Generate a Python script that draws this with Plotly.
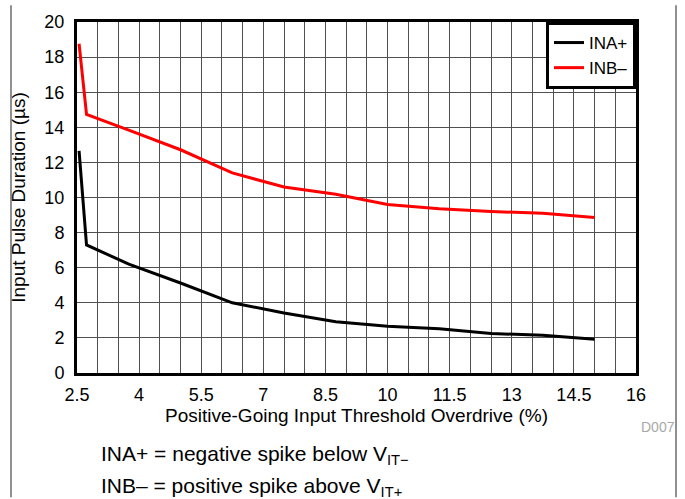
import plotly.graph_objects as go

# Threshold overdrive (%) at which each pulse duration was measured
overdrive = [2.55, 2.73, 3.75, 5.0, 6.25, 7.5, 8.75, 10.0, 11.25, 12.5, 13.75, 15.0]

# Minimum input pulse duration (µs)
ina_plus = [12.65, 7.3, 6.2, 5.13, 4.0, 3.42, 2.92, 2.66, 2.52, 2.25, 2.15, 1.92]
inb_minus = [18.76, 14.73, 13.84, 12.72, 11.4, 10.6, 10.19, 9.6, 9.36, 9.2, 9.1, 8.86]

x_ticks = [2.5, 4, 5.5, 7, 8.5, 10, 11.5, 13, 14.5, 16]
x_tick_text = ["2.5", "4", "5.5", "7", "8.5", "10", "11.5", "13", "14.5", "16"]

FONT = "Liberation Sans, Arial, sans-serif"

fig = go.Figure()
fig.add_trace(go.Scatter(x=overdrive, y=ina_plus, mode="lines", name="INA+",
                         line=dict(color="black", width=3)))
fig.add_trace(go.Scatter(x=overdrive, y=inb_minus, mode="lines", name="INB–",
                         line=dict(color="#ff0000", width=3)))

grid = "#505050"
fig.update_xaxes(
    range=[2.5, 16], tickvals=x_ticks, ticktext=x_tick_text,
    showgrid=True, gridcolor=grid, gridwidth=1,
    minor=dict(dtick=0.5, tick0=2.5, showgrid=True, gridcolor=grid, gridwidth=1),
    showline=True, mirror=True, linecolor="black", linewidth=3,
    ticks="outside", ticklen=3, tickcolor="rgba(0,0,0,0)",
    tickfont=dict(family=FONT, size=18, color="black"),
    title=dict(text="Positive-Going Input Threshold Overdrive (%)",
               font=dict(family=FONT, size=19, color="black"), standoff=2),
    zeroline=False,
)
fig.update_yaxes(
    range=[0, 20], dtick=2,
    showgrid=True, gridcolor=grid, gridwidth=1,
    showline=True, mirror=True, linecolor="black", linewidth=3,
    ticks="outside", ticklen=6, tickcolor="rgba(0,0,0,0)",
    tickfont=dict(family=FONT, size=18, color="black"),
    title=dict(text="Input Pulse Duration (µs)",
               font=dict(family=FONT, size=19, color="black"), standoff=14),
    zeroline=False,
)

fig.update_layout(
    width=685, height=499,
    margin=dict(l=77, r=49, t=17, b=126),
    paper_bgcolor="white", plot_bgcolor="white",
    font=dict(family=FONT, color="black"),
    legend=dict(x=1, y=1, xanchor="right", yanchor="top",
                bgcolor="white", bordercolor="black", borderwidth=3,
                entrywidth=64, tracegroupgap=0,
                font=dict(family=FONT, size=17, color="black")),
    annotations=[
        dict(text="D007", xref="paper", yref="paper", x=1.005, y=-0.153,
             xanchor="left", yanchor="middle", showarrow=False,
             font=dict(family=FONT, size=14, color="#a8a8a8")),
        dict(text="INA+ = negative spike below V<sub>IT−</sub>",
             xref="paper", yref="paper", x=0.04, y=-0.235,
             xanchor="left", yanchor="middle", showarrow=False,
             font=dict(family=FONT, size=21, color="black")),
        dict(text="INB– = positive spike above V<sub>IT+</sub>",
             xref="paper", yref="paper", x=0.04, y=-0.325,
             xanchor="left", yanchor="middle", showarrow=False,
             font=dict(family=FONT, size=21, color="black")),
    ],
    shapes=[
        dict(type="line", xref="paper", yref="paper",
             x0=-66 / 559, x1=-66 / 559, y0=-126 / 356, y1=17 / 356 + 1,
             line=dict(color="#909090", width=2)),
        dict(type="line", xref="paper", yref="paper",
             x0=599 / 559, x1=599 / 559, y0=-126 / 356, y1=17 / 356 + 1,
             line=dict(color="#909090", width=2)),
    ],
)

fig.write_html("out.html")
